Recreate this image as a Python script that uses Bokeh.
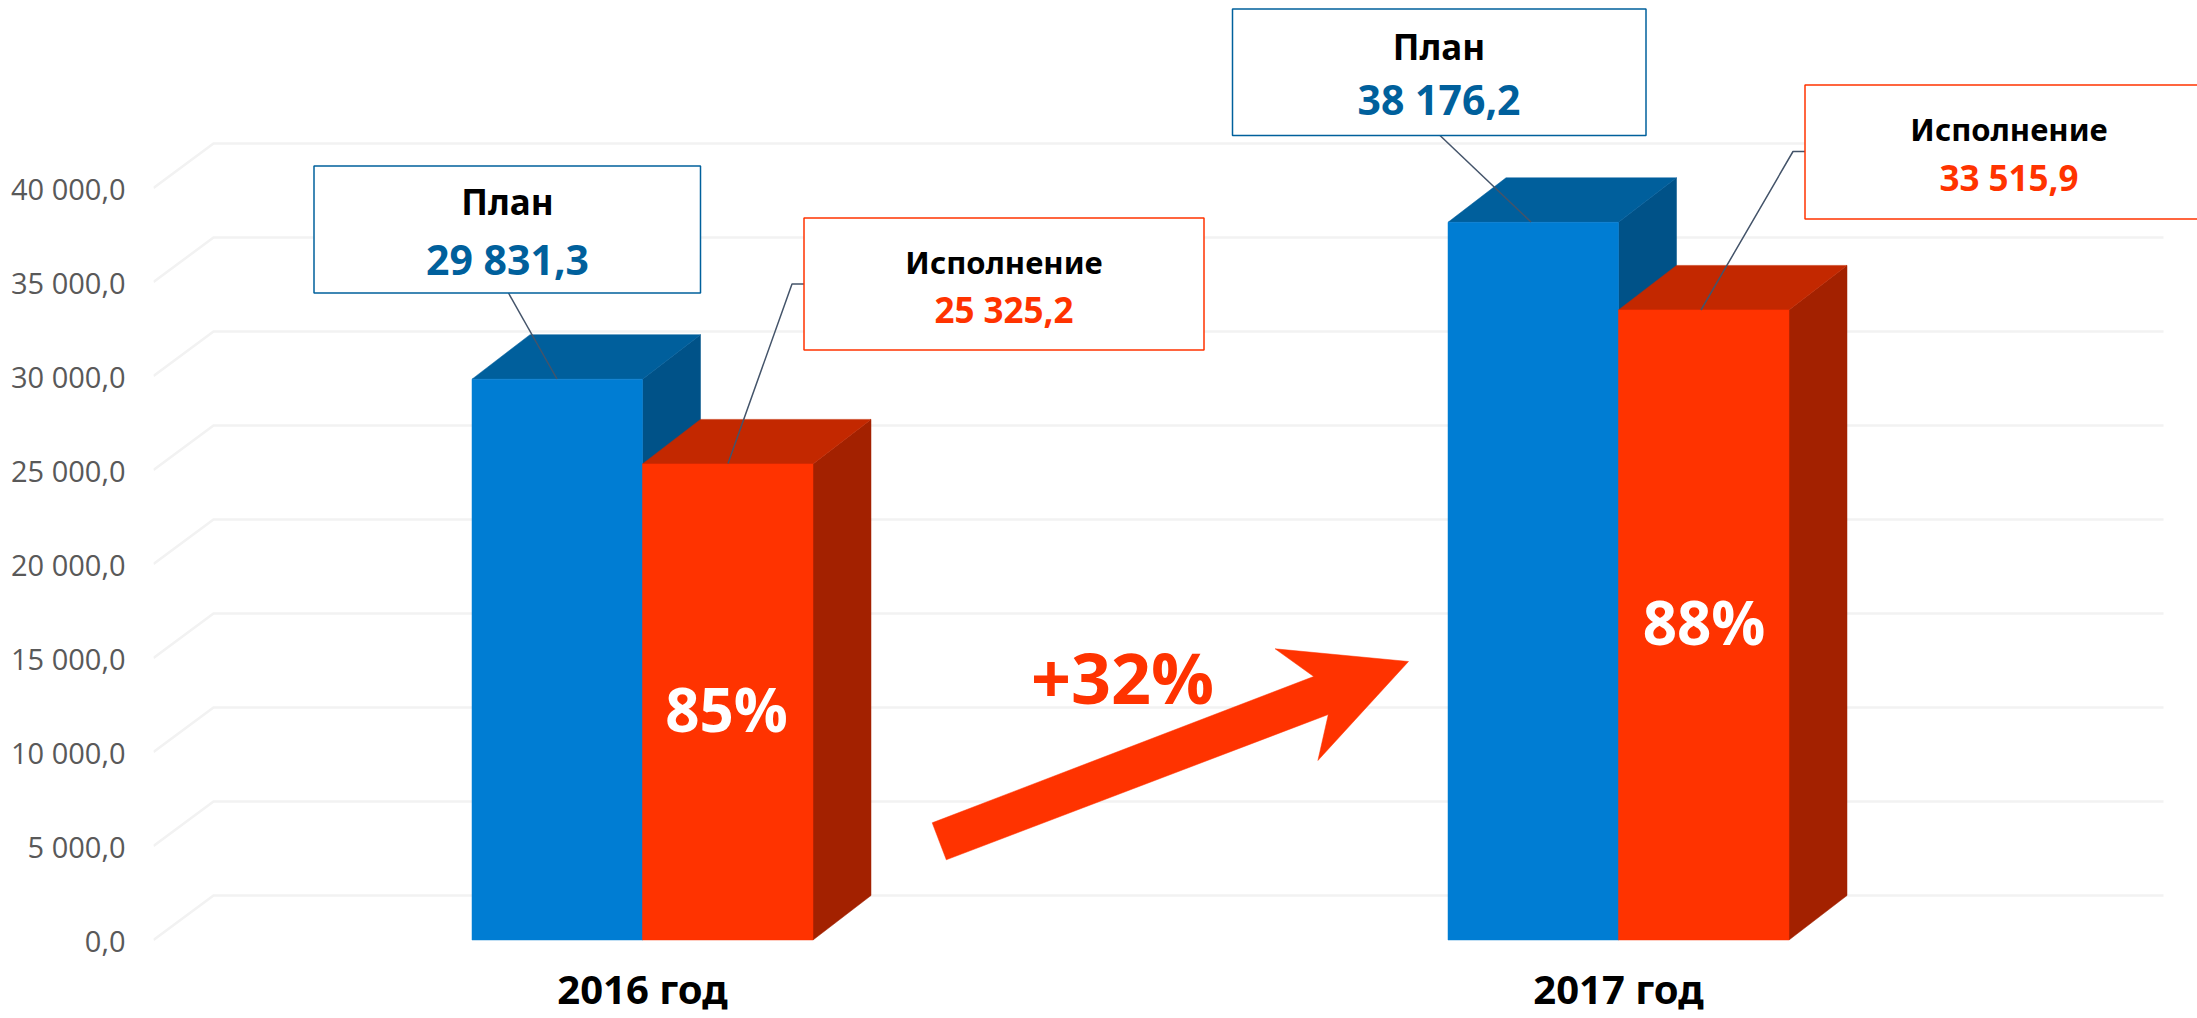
from bokeh.plotting import figure
from bokeh.models import Range1d, FixedTicker
from bokeh.core.properties import value
from bokeh.embed import file_html
from bokeh.resources import INLINE

# ---- data ----
years = ["2016 год", "2017 год"]
plan_values = [29831.3, 38176.2]
exec_values = [25325.2, 33515.9]
plan_labels = ["29 831,3", "38 176,2"]
exec_labels = ["25 325,2", "33 515,9"]
percent_labels = ["85%", "88%"]
growth_label = "+32%"
y_ticks = [0, 5000, 10000, 15000, 20000, 25000, 30000, 35000, 40000]
y_tick_labels = ["0,0", "5 000,0", "10 000,0", "15 000,0", "20 000,0",
                 "25 000,0", "30 000,0", "35 000,0", "40 000,0"]

# ---- layout (page pixels) ----
W, H = 2197, 1018
FRAME_L, FRAME_B = 153, 948
Y0, PX_PER_UNIT = 939.5, 94 / 5000
DX, DY = 58, 44.5
GRID_DX, GRID_R = 60, 2163
group_x = [642, 1618]
BAR_W = 170.5

BLUE, BLUE_TOP, BLUE_SIDE = "#007dd3", "#005f9c", "#005288"
RED, RED_TOP, RED_SIDE = "#ff3300", "#c32800", "#a32100"
TXT_BLUE = "#00609c"
LEAD = "#44546a"
FONT = "Noto Sans"


def vy(py):
    return (Y0 - py) / PX_PER_UNIT


p = figure(width=W, height=H, output_backend="svg", toolbar_location=None,
           x_range=Range1d(FRAME_L, W), y_range=Range1d(vy(FRAME_B), vy(0)),
           min_border_left=FRAME_L, min_border_right=0, min_border_top=0,
           min_border_bottom=H - FRAME_B, outline_line_color=None,
           background_fill_color="white", border_fill_color="white")
p.grid.visible = False

p.yaxis.ticker = FixedTicker(ticks=y_ticks)
p.yaxis.major_label_overrides = dict(zip(y_ticks, y_tick_labels))
p.yaxis.major_label_text_font = "Open Sans"
p.yaxis.major_label_text_font_size = "29px"
p.yaxis.major_label_text_color = "#595959"
p.yaxis.major_label_standoff = 22
p.yaxis.axis_line_color = None
p.yaxis.major_tick_line_color = None
p.yaxis.minor_tick_line_color = None

p.xaxis.ticker = FixedTicker(ticks=group_x)
p.xaxis.major_label_overrides = dict(zip(group_x, years))
p.xaxis.major_label_text_font = FONT
p.xaxis.major_label_text_font_style = "bold"
p.xaxis.major_label_text_font_size = "40px"
p.xaxis.major_label_text_color = "black"
p.xaxis.major_label_standoff = 12
p.xaxis.major_tick_out = 0
p.xaxis.major_tick_in = 0
p.xaxis.axis_line_color = None
p.xaxis.major_tick_line_color = None
p.xaxis.minor_tick_line_color = None

# gridlines with the 3D floor/wall elbow
depth_v = DY / PX_PER_UNIT
p.multi_line(
    xs=[[FRAME_L, FRAME_L + GRID_DX, GRID_R] for _ in y_ticks],
    ys=[[t, t + depth_v, t + depth_v] for t in y_ticks],
    line_color="#f2f2f2", line_width=2.5)


def bar3d(x0, x1, v, front, top, side):
    p.patch([x1, x1 + DX, x1 + DX, x1], [0, depth_v, v + depth_v, v],
            fill_color=side, line_color=side, line_width=0.5)
    p.patch([x0, x0 + DX, x1 + DX, x1], [v, v + depth_v, v + depth_v, v],
            fill_color=top, line_color=top, line_width=0.5)
    p.quad(left=x0, right=x1, bottom=0, top=v,
           fill_color=front, line_color=front, line_width=0.5)


for cx, pv, ev in zip(group_x, plan_values, exec_values):
    bar3d(cx - BAR_W, cx, pv, BLUE, BLUE_TOP, BLUE_SIDE)
    bar3d(cx, cx + BAR_W, ev, RED, RED_TOP, RED_SIDE)


def label(x, py, txt, color, size, font=FONT):
    p.text([x], [vy(py)], text=[txt], text_color=color, text_align="center",
           text_baseline="middle", text_font=value(font),
           text_font_size=size, text_font_style="bold")


def callout(box, leader, cx, head, val, py_head, py_val, color, txt_color, hsize, vsize):
    p.line(leader[0], [vy(q) for q in leader[1]], line_color=LEAD, line_width=1.5)
    p.quad(left=box[0], right=box[1], top=vy(box[2]), bottom=vy(box[3]),
           fill_color="white", line_color=color, line_width=1.5)
    label(cx, py_head, head, "black", hsize)
    label(cx, py_val, val, txt_color, vsize)


callout((313.5, 700, 165.5, 292.5), ([508, 556.5], [292.5, 378.5]), 507, "План",
        plan_labels[0], 201, 258.5, TXT_BLUE, TXT_BLUE, "35px", "41px")
callout((803.5, 1203.5, 217.5, 349.5), ([803.5, 791.5, 727.5], [283.5, 283.5, 463]), 1003.5,
        "Исполнение", exec_labels[0], 261, 309, RED, RED, "31px", "35px")
callout((1232, 1645.5, 8.5, 135), ([1439.5, 1530.5], [135, 221.5]), 1438.5, "План",
        plan_labels[1], 46, 98, TXT_BLUE, TXT_BLUE, "35px", "41px")
callout((1804.5, 2300, 84.5, 218.5), ([1804.5, 1792.5, 1700.5], [151, 151, 309.5]), 2008.5,
        "Исполнение", exec_labels[1], 128, 177, RED, RED, "31px", "35px")

label(726, 708.5, percent_labels[0], "white", "60px", "Open Sans")
label(1703.5, 621, percent_labels[1], "white", "60px", "Open Sans")

# growth arrow
arrow_x = [931.7, 945.8, 1327.8, 1317.4, 1408, 1274.6, 1313.2]
arrow_y = [822.3, 859.3, 714, 760, 661, 648.3, 676]
p.patch(arrow_x, [vy(q) for q in arrow_y], fill_color=RED, line_color=RED, line_width=0.5)
label(1122, 676, growth_label, RED, "70px", "Open Sans")

open("out.html", "w").write(file_html(p, INLINE))
